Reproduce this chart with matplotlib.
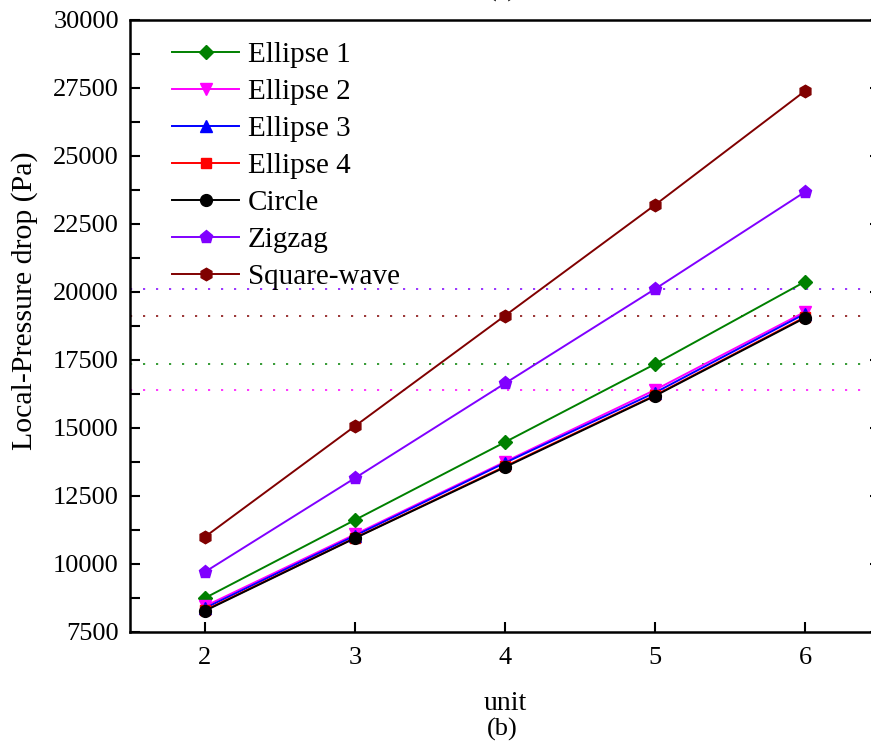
import matplotlib
matplotlib.use("Agg")
import matplotlib.pyplot as plt
from matplotlib.ticker import MultipleLocator

plt.rcParams['font.family'] = ['Liberation Serif', 'DejaVu Serif']
plt.rcParams['mathtext.fontset'] = 'stix'

# Number of units and local pressure drop (Pa) for each channel shape
units = [2, 3, 4, 5, 6]
ellipse1 = [8750, 11620, 14480, 17350, 20380]
ellipse2 = [8450, 11090, 13760, 16400, 19270]
ellipse3 = [8380, 11040, 13720, 16300, 19200]
ellipse4 = [8300, 10960, 13590, 16200, 19080]
circle = [8280, 10950, 13560, 16180, 19050]
zigzag = [9710, 13160, 16640, 20110, 23680]
square_wave = [11000, 15070, 19130, 23200, 27390]

series_labels = ["Ellipse 1", "Ellipse 2", "Ellipse 3", "Ellipse 4",
                 "Circle", "Zigzag", "Square-wave"]
x_ticks = [2, 3, 4, 5, 6]
y_ticks = [7500, 10000, 12500, 15000, 17500, 20000, 22500, 25000, 27500, 30000]

series = [ellipse1, ellipse2, ellipse3, ellipse4, circle, zigzag, square_wave]
colors = ['#008000', '#FF00FF', '#0000FF', '#FF0000', '#000000', '#8000FF', '#800000']
markers = ['D', 'v', '^', 's', 'o', 'p', 'h']
msizes = [7, 8.5, 8.5, 7, 8.5, 9.5, 9]

fig = plt.figure(figsize=(8.71, 7.44), dpi=100)
ax = fig.add_axes([130 / 871, 112 / 744, 750 / 871, 612 / 744])

# dotted reference levels at selected points
refs = [(zigzag[3], '#8000FF'), (square_wave[2], '#800000'),
        (ellipse1[3], '#008000'), (ellipse2[3], '#FF00FF')]
for val, c in refs:
    ax.axhline(val, color=c, lw=1.3, ls=(0, (1.2, 6)), alpha=0.85, zorder=1)

for ys, lab, c, m, ms in zip(series, series_labels, colors, markers, msizes):
    ax.plot(units, ys, color=c, marker=m, markersize=ms, lw=1.4,
            markeredgecolor=c, markerfacecolor=c, label=lab, zorder=3)

ax.set_xlim(1.5, 6.5)
ax.set_ylim(7500, 30000)
ax.set_xticks(x_ticks)
ax.set_yticks(y_ticks)
ax.yaxis.set_minor_locator(MultipleLocator(1250))

for s in ax.spines.values():
    s.set_linewidth(1.8)

ax.tick_params(axis='both', which='major', direction='in', length=7, width=1.5,
               labelsize=19)
ax.tick_params(axis='y', which='major', right=True, pad=8)
ax.tick_params(axis='y', which='minor', direction='in', length=7, width=1.5)
ax.tick_params(axis='x', which='major', pad=11)

ax.set_xlabel("unit", fontsize=20, labelpad=16)
ax.set_ylabel("Local-Pressure drop (Pa)", fontsize=21.5)
ax.yaxis.set_label_coords(-0.123, 0.541)

leg = ax.legend(loc='upper left', bbox_to_anchor=((172 - 130) / 750, 0.964),
                frameon=False, fontsize=21, borderpad=0, borderaxespad=0,
                handlelength=2.3, handletextpad=0.3, labelspacing=0.36)

fig.text(502 / 871, 1 + 10 / 744, "(a)", ha='center', va='center', fontsize=19)
fig.text(502 / 871, 1 - 729 / 744, "(b)", ha='center', va='center', fontsize=19)

fig.savefig("out.png", dpi=100)
